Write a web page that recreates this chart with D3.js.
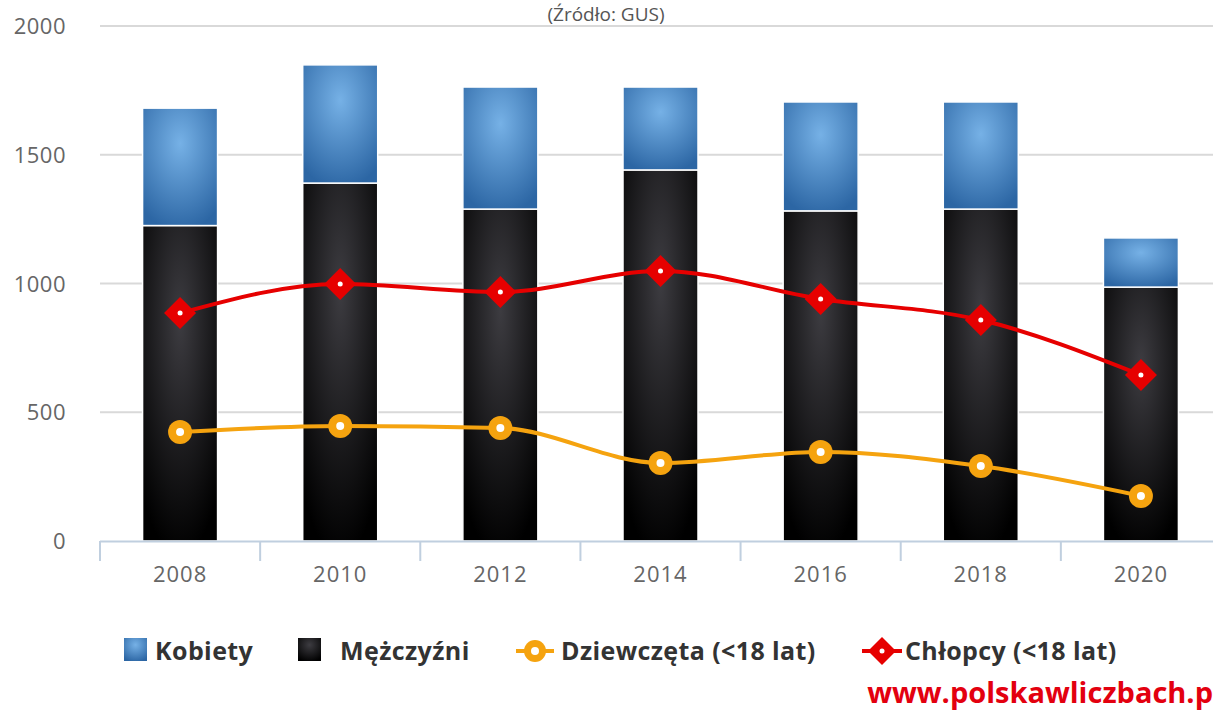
<!DOCTYPE html>
<html>
<head>
<meta charset="utf-8">
<script src="https://cdn.jsdelivr.net/npm/d3@7"></script>
<style>
  body { margin: 0; background: #fff; }
  svg { display: block; font-family: "Open Sans", "Noto Sans", sans-serif; }
</style>
</head>
<body>
<div id="chart"></div>
<script>
// data
var years = ["2008", "2010", "2012", "2014", "2016", "2018", "2020"];
var kobiety = [456, 459, 474, 322, 423, 416, 191];
var mezczyzni = [1225, 1390, 1289, 1441, 1282, 1289, 986];
var dziewczeta = [423, 447, 439, 303, 346, 291, 175];
var chlopcy = [885, 998, 967, 1049, 940, 858, 645];
var yTicks = [0, 500, 1000, 1500, 2000];

var svgWidth = 1213;
var svgHeight = 711;

var svg = d3.select("#chart")
  .append("svg")
  .attr("width", svgWidth)
  .attr("height", svgHeight);

var defs = svg.append("defs");

function radial(id, inner, outer) {
  var g = defs.append("radialGradient")
    .attr("id", id)
    .attr("cx", "50%").attr("cy", "30%").attr("r", "75%");
  g.append("stop").attr("offset", "0%").attr("stop-color", inner);
  g.append("stop").attr("offset", "100%").attr("stop-color", outer);
}
radial("gBlue", "#76b1e6", "#2c66a4");
radial("gBlack", "#3d3c41", "#000000");

var x = d3.scaleBand()
  .domain(years)
  .range([100, 1221]);

var y = d3.scaleLinear()
  .domain([0, 2000])
  .range([541, 26]);

// gridlines
svg.append("g")
  .selectAll("line")
  .data(yTicks.filter(d => d > 0))
  .enter()
  .append("line")
  .attr("x1", 100)
  .attr("x2", svgWidth)
  .attr("y1", d => y(d))
  .attr("y2", d => y(d))
  .attr("stroke", "#d9d9d9")
  .attr("stroke-width", 2);

// y labels
svg.append("g")
  .selectAll("text")
  .data(yTicks)
  .enter()
  .append("text")
  .attr("x", 66)
  .attr("y", d => y(d) + 8)
  .attr("text-anchor", "end")
  .attr("font-size", "22px")
  .attr("letter-spacing", "0.5px")
  .attr("fill", "#666")
  .text(d => d);

// title
svg.append("text")
  .attr("x", 606)
  .attr("y", 21)
  .attr("text-anchor", "middle")
  .attr("font-size", "19px")
  .attr("fill", "#555")
  .text("(Źródło: GUS)");

// stacked bars
var barW = 75;
var stackData = years.map(function(yr, i) {
  return { year: yr, men: mezczyzni[i], women: kobiety[i] };
});

var barsGroup = svg.append("g");
barsGroup.selectAll(".men")
  .data(stackData)
  .enter()
  .append("rect")
  .attr("x", d => x(d.year) + x.bandwidth() / 2 - barW / 2)
  .attr("y", d => y(d.men))
  .attr("width", barW)
  .attr("height", d => y(0) - y(d.men))
  .attr("fill", "url(#gBlack)")
  .attr("stroke", "#fff")
  .attr("stroke-width", 1.5);

barsGroup.selectAll(".women")
  .data(stackData)
  .enter()
  .append("rect")
  .attr("x", d => x(d.year) + x.bandwidth() / 2 - barW / 2)
  .attr("y", d => y(d.men + d.women))
  .attr("width", barW)
  .attr("height", d => y(d.men) - y(d.men + d.women))
  .attr("fill", "url(#gBlue)")
  .attr("stroke", "#fff")
  .attr("stroke-width", 1.5);

// x axis
svg.append("line")
  .attr("x1", 100).attr("x2", svgWidth)
  .attr("y1", 541.5).attr("y2", 541.5)
  .attr("stroke", "#c0cfdf")
  .attr("stroke-width", 2);

svg.append("g")
  .selectAll("line")
  .data(years)
  .enter()
  .append("line")
  .attr("x1", d => x(d))
  .attr("x2", d => x(d))
  .attr("y1", 541)
  .attr("y2", 561)
  .attr("stroke", "#c0cfdf")
  .attr("stroke-width", 2);

svg.append("g")
  .selectAll("text")
  .data(years)
  .enter()
  .append("text")
  .attr("x", d => x(d) + x.bandwidth() / 2)
  .attr("y", 582)
  .attr("text-anchor", "middle")
  .attr("font-size", "22px")
  .attr("letter-spacing", "1px")
  .attr("fill", "#666")
  .text(d => d);

// lines
var cx = d => x(d.year) + x.bandwidth() / 2;

function drawLine(values, color) {
  var pts = years.map((yr, i) => ({ year: yr, v: values[i] }));
  var line = d3.line()
    .x(cx)
    .y(d => y(d.v))
    .curve(d3.curveMonotoneX);
  svg.append("path")
    .datum(pts)
    .attr("d", line)
    .attr("fill", "none")
    .attr("stroke", color)
    .attr("stroke-width", 4);
  return pts;
}

var girlPts = drawLine(dziewczeta, "#f5a30f");
var boyPts = drawLine(chlopcy, "#e60000");

svg.append("g").selectAll("circle")
  .data(girlPts)
  .enter()
  .append("circle")
  .attr("cx", cx)
  .attr("cy", d => y(d.v))
  .attr("r", 12)
  .attr("fill", "#f5a30f");
svg.append("g").selectAll("circle")
  .data(girlPts)
  .enter()
  .append("circle")
  .attr("cx", cx)
  .attr("cy", d => y(d.v))
  .attr("r", 4)
  .attr("fill", "#fff");

var diamond = "M0,-16L16,0L0,16L-16,0Z";
svg.append("g").selectAll("path")
  .data(boyPts)
  .enter()
  .append("path")
  .attr("transform", d => `translate(${cx(d)},${y(d.v)})`)
  .attr("d", diamond)
  .attr("fill", "#e60000");
svg.append("g").selectAll("circle")
  .data(boyPts)
  .enter()
  .append("circle")
  .attr("cx", cx)
  .attr("cy", d => y(d.v))
  .attr("r", 2.5)
  .attr("fill", "#fff");

// legend
var legend = svg.append("g").attr("font-size", "25px").attr("font-weight", "bold").attr("fill", "#333").attr("letter-spacing", "0.4px");

legend.append("rect").attr("x", 124).attr("y", 638).attr("width", 23).attr("height", 23).attr("fill", "url(#gBlue)");
legend.append("text").attr("x", 155).attr("y", 660).text("Kobiety");

legend.append("rect").attr("x", 298).attr("y", 638).attr("width", 23).attr("height", 23).attr("fill", "url(#gBlack)");
legend.append("text").attr("x", 340).attr("y", 660).text("Mężczyźni");

legend.append("line").attr("x1", 516).attr("x2", 554).attr("y1", 651).attr("y2", 651).attr("stroke", "#f5a30f").attr("stroke-width", 4);
legend.append("circle").attr("cx", 535).attr("cy", 651).attr("r", 11).attr("fill", "#f5a30f");
legend.append("circle").attr("cx", 535).attr("cy", 651).attr("r", 4).attr("fill", "#fff");
legend.append("text").attr("x", 561).attr("y", 660).text("Dziewczęta (<18 lat)");

legend.append("line").attr("x1", 862).attr("x2", 902).attr("y1", 651).attr("y2", 651).attr("stroke", "#e60000").attr("stroke-width", 4);
legend.append("path").attr("transform", "translate(882,651)").attr("d", "M0,-14L14,0L0,14L-14,0Z").attr("fill", "#e60000");
legend.append("circle").attr("cx", 882).attr("cy", 651).attr("r", 2.5).attr("fill", "#fff");
legend.append("text").attr("x", 905).attr("y", 660).text("Chłopcy (<18 lat)");

// watermark
svg.append("text")
  .attr("x", 1213)
  .attr("y", 703)
  .attr("text-anchor", "end")
  .attr("font-size", "29px")
  .attr("font-weight", "bold")
  .attr("fill", "#e3000f")
  .text("www.polskawliczbach.p");
</script>
</body>
</html>
